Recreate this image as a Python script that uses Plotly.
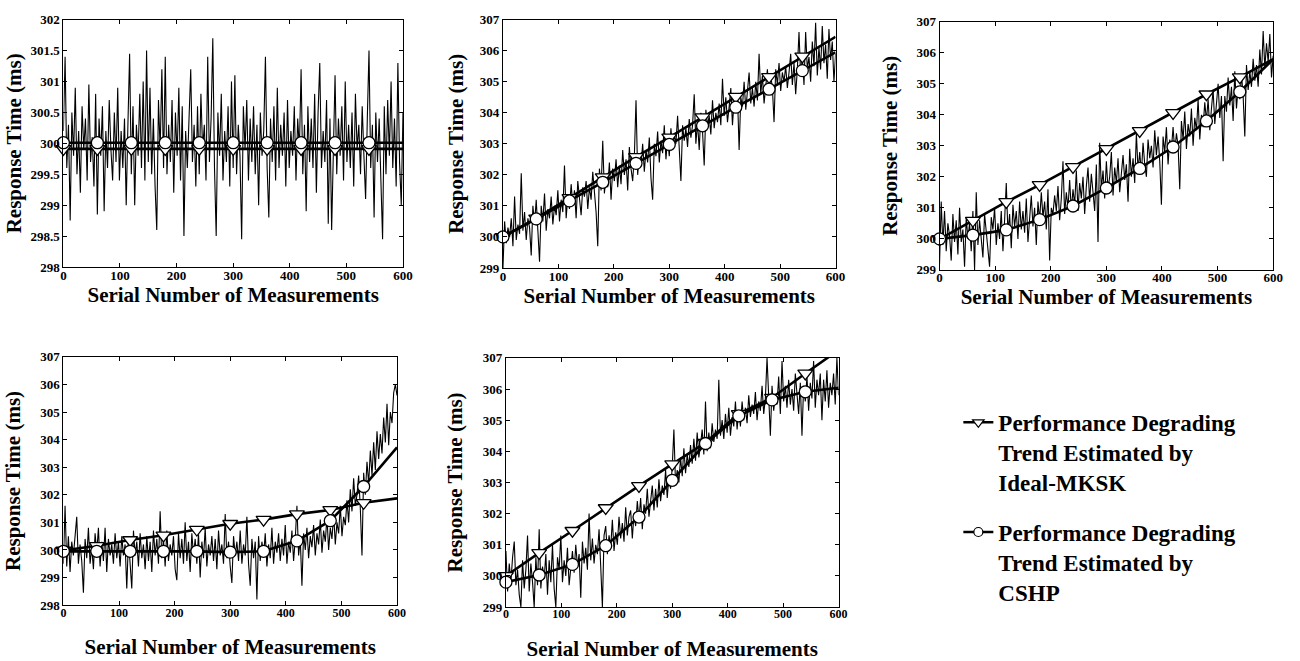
import plotly.graph_objects as go

# ---------------- data ----------------
serial_x = list(range(0, 601, 3))
trend_x = [0, 60, 120, 180, 240, 300, 360, 420, 480, 540, 600]

p1_measured = [
    300.2, 301.4, 299.6, 300.3, 298.75, 300.5, 299.8, 300.9, 299.5, 300.2,
    299.2, 300.6, 299.9, 300.4, 299.4, 300.95, 299.7, 300.1, 299.3, 300.8,
    298.85, 300.4, 299.8, 300.6, 298.9, 300.2, 299.6, 300.7, 299.9, 299.4,
    300.5, 299.7, 300.9, 299.4, 300.2, 299.6, 300.4, 299.0, 300.3, 301.45,
    299.5, 300.6, 299.0, 300.3, 299.8, 300.8, 299.6, 301.0, 299.4, 301.5,
    299.7, 300.9, 299.5, 300.4, 299.3, 298.6, 300.7, 299.9, 301.2, 299.6,
    301.4, 299.5, 300.3, 299.7, 300.7, 299.2, 300.5, 299.8, 300.9, 299.4,
    300.6, 298.5, 300.2, 299.6, 300.4, 301.2, 299.7, 300.3, 299.3, 300.6,
    299.5, 300.8, 299.9, 300.3, 299.4, 301.4, 299.7, 300.4, 301.7, 299.6,
    298.5, 300.5, 299.8, 300.8, 299.4, 300.2, 299.7, 300.6, 299.3, 301.0,
    299.6, 301.1, 299.5, 300.3, 299.8, 298.45, 300.6, 299.9, 300.7, 299.4,
    300.4, 299.7, 300.6, 299.5, 300.3, 299.0, 300.5, 299.8, 300.2, 301.4,
    299.6, 298.8, 300.4, 299.7, 300.6, 299.4, 300.9, 299.6, 300.3, 299.8,
    300.5, 299.3, 300.7, 299.6, 300.2, 299.8, 300.6, 299.4, 300.4, 299.9,
    301.2, 299.5, 300.3, 298.9, 300.6, 299.7, 300.4, 299.6, 300.8, 299.2,
    300.5, 301.3, 299.6, 300.2, 299.7, 300.7, 298.7, 300.4, 298.6, 300.2,
    301.1, 299.5, 300.4, 299.8, 300.6, 299.4, 301.0, 299.7, 300.3, 299.6,
    300.5, 299.3, 300.8, 299.9, 300.3, 299.5, 300.6, 299.8, 299.1, 300.4,
    301.5, 299.6, 300.3, 298.8, 300.5, 299.7, 300.4, 299.4, 298.45, 300.6,
    299.5, 300.7, 299.8, 301.0, 299.6, 300.4, 299.3, 301.3, 299.7, 299.0,
    300.5]
p2_measured = [
    299.0, 300.5, 299.8, 300.3, 300.0, 300.6, 299.7, 301.3, 299.9, 300.4,
    300.1, 302.05, 300.2, 300.8, 299.9, 300.6, 300.3, 299.4, 301.0, 300.4,
    301.2, 300.3, 299.2, 301.0, 300.5, 301.4, 300.2, 300.9, 300.6, 301.3,
    300.4, 301.0, 300.7, 301.5, 300.5, 301.2, 300.8, 302.3, 300.6, 301.3,
    300.9, 301.7, 301.0, 301.5, 300.6, 301.8, 301.2, 300.7, 301.6, 301.3,
    301.8, 300.9, 301.6, 301.2, 302.1, 301.4, 300.8, 299.7, 302.2, 301.5,
    303.1, 301.4, 302.0, 301.6, 302.4, 301.2, 302.2, 301.8, 302.5, 301.6,
    302.3, 301.7, 302.8, 302.0, 302.5, 301.5, 302.9, 302.2, 301.8, 302.6,
    304.4, 302.0, 302.7, 302.3, 303.0, 302.1, 302.8, 302.4, 303.2, 301.9,
    301.2, 303.0, 302.6, 303.4, 302.4, 303.1, 302.7, 303.6, 302.5, 303.2,
    302.6, 303.5, 302.8, 303.3, 303.0, 303.9, 302.7, 301.8, 303.6, 303.1,
    303.5, 302.9, 303.8, 303.2, 303.6, 304.6, 303.0, 303.7, 302.8, 304.0,
    303.4, 302.3, 304.1, 303.6, 303.9, 303.3, 304.4, 303.5, 304.0, 303.7,
    304.3, 303.6, 305.1, 303.9, 304.5, 303.7, 304.2, 304.8, 303.6, 304.4,
    304.0, 304.6, 302.8, 304.5, 304.2, 305.0, 304.1, 304.6, 305.3, 304.3,
    304.8, 304.2, 305.0, 304.4, 305.9, 304.6, 305.2, 304.3, 304.9, 305.4,
    304.6, 305.2, 304.8, 303.7, 305.4, 304.9, 305.6, 304.7, 305.3, 305.0,
    305.5, 304.8, 305.3, 305.9, 304.9, 305.6, 304.6, 305.4, 306.6, 305.2,
    305.8, 304.9, 306.6, 305.4, 305.8, 305.0, 306.3, 305.5, 306.9, 305.2,
    306.1, 305.4, 306.8, 305.6, 306.2, 305.1, 306.7, 305.7, 306.3, 305.0,
    305.9]
p3_measured = [
    299.2, 301.2, 299.8, 300.9, 299.6, 300.5, 300.1, 299.3, 300.8, 299.9,
    300.6, 299.5, 301.0, 299.9, 300.3, 299.1, 300.7, 300.0, 300.5, 299.6,
    300.9, 299.0, 301.5, 299.8, 300.6, 300.1, 299.4, 300.8, 300.2, 299.7,
    299.1, 300.7, 300.3, 301.0, 299.8, 300.5, 300.0, 300.9, 299.6, 300.6,
    301.8, 300.2, 300.8, 299.7, 301.1, 300.4, 300.9, 300.0, 301.2, 300.3,
    300.9, 300.2, 301.3, 299.9, 300.7, 301.4, 300.4, 301.0, 299.8, 301.2,
    300.6, 301.5, 300.7, 301.2, 300.3, 301.6, 299.3, 301.0, 300.8, 301.4,
    300.9, 301.7, 300.6, 301.3, 302.5, 300.8, 301.5, 301.0, 301.9, 300.9,
    301.6, 301.1, 302.2, 300.9, 301.8, 301.3, 302.0, 300.8, 301.7, 302.3,
    301.2, 302.1, 301.5, 300.9, 302.4, 299.9, 303.1, 301.6, 302.2, 301.3,
    302.5, 301.6, 302.0, 302.8, 301.4, 302.3, 301.8, 302.6, 301.5, 302.2,
    302.7, 301.9, 302.4, 301.2, 302.9, 302.0, 302.6, 301.8, 303.4, 302.2,
    302.8, 302.1, 303.1, 302.4, 302.0, 303.2, 302.6, 303.0, 302.3, 303.5,
    302.7, 303.3, 302.5, 301.1, 303.3, 302.8, 303.6, 302.4, 303.2, 302.9,
    303.6, 302.8, 303.4, 303.0, 301.6, 303.8, 303.2, 304.1, 302.9, 303.7,
    303.3, 304.2, 303.0, 303.9, 303.5, 304.5, 303.2, 304.0, 303.6, 304.4,
    303.8, 304.5, 303.5, 304.2, 304.8, 303.7, 304.3, 305.0, 303.9, 304.6,
    302.5, 304.6, 304.1, 305.2, 304.3, 304.9, 303.8, 305.4, 304.2, 304.9,
    304.5, 305.3, 304.6, 303.3, 305.6, 304.8, 305.4, 304.9, 305.8, 305.1,
    305.6, 304.9, 306.1, 305.3, 306.7, 305.5, 306.3, 305.7, 306.6, 305.2,
    305.9]
p4_measured = [
    299.5, 301.6, 299.4, 300.5, 299.2, 300.3, 299.8, 300.6, 301.2, 299.5,
    300.2, 299.6, 298.45, 300.4, 299.7, 300.8, 299.5, 300.1, 299.3, 300.6,
    299.9, 300.8, 299.4, 300.3, 299.6, 300.8, 299.2, 300.4, 299.8, 300.2,
    299.5, 300.6, 299.7, 300.3, 299.4, 300.5, 299.8, 300.2, 298.6, 300.4,
    299.6, 298.6, 300.7, 299.8, 300.3, 299.4, 300.6, 299.7, 300.2, 299.3,
    300.5, 299.6, 300.3, 299.2, 300.7, 299.8, 300.4, 299.5, 301.4, 299.7,
    300.4, 299.4, 300.7, 299.6, 300.2, 299.8, 300.5, 299.3, 298.9, 300.6,
    299.7, 300.4, 299.5, 301.0, 299.6, 300.3, 299.2, 300.6, 299.8, 300.4,
    299.5, 300.6, 299.0, 300.3, 299.7, 300.8, 299.4, 300.2, 299.8, 300.5,
    299.6, 300.4, 299.3, 300.7, 299.8, 300.2, 299.5, 301.3, 299.7, 300.3,
    299.4, 298.8, 300.5, 299.8, 300.3, 299.6, 300.7, 299.5, 300.2, 299.8,
    301.2, 299.5, 298.7, 300.4, 299.7, 300.3, 298.2, 300.5, 299.6, 300.3,
    299.8, 300.6, 299.4, 300.2, 299.7, 300.8, 299.5, 300.3, 299.9, 300.6,
    299.6, 300.4, 299.8, 300.9, 299.5, 300.3, 299.9, 300.7, 299.6, 300.4,
    301.6, 299.8, 300.4, 298.7, 300.6, 300.0, 300.8, 299.7, 300.5, 300.1,
    300.9, 299.8, 300.6, 300.2, 301.1, 299.9, 300.7, 300.3, 301.2, 300.0,
    300.8, 300.4, 301.3, 300.2, 301.0, 300.6, 301.6, 300.5, 301.2, 300.9,
    301.8, 301.0, 302.2, 301.4, 302.6, 301.6, 302.0, 302.7, 301.5, 299.8,
    302.8, 302.0, 303.2, 302.4, 303.6, 302.7, 303.9, 302.9, 304.3, 303.3,
    304.2, 303.5, 304.8, 303.9, 305.3, 303.8, 305.0, 304.6, 305.7, 306.0,
    305.6]
p5_measured = [
    300.8, 299.5, 300.4, 299.8, 300.6, 301.1, 299.7, 300.2, 299.4, 299.0,
    300.5, 299.6, 300.2, 301.3, 299.5, 300.4, 299.8, 299.0, 300.6, 299.7,
    301.5, 299.6, 300.3, 299.9, 300.7, 299.4, 300.5, 299.8, 301.0, 299.6,
    299.0, 300.6, 300.2, 301.3, 299.8, 300.5, 300.0, 300.9, 299.7, 300.4,
    300.8, 300.1, 301.0, 300.3, 300.7, 299.3, 301.1, 300.4, 300.9, 300.2,
    302.0, 300.5, 301.2, 300.4, 301.0, 300.7, 301.5, 300.3, 299.0, 301.3,
    301.6, 300.7, 301.3, 300.9, 301.8, 300.8, 301.4, 301.0, 301.9, 301.2,
    301.7, 301.1, 302.2, 301.3, 301.9, 302.1, 301.2, 302.0, 301.6, 302.4,
    301.8, 302.5, 301.5, 302.3, 302.0, 302.8, 301.9, 302.4, 302.9, 302.1,
    302.8, 302.2, 303.1, 302.4, 302.9, 302.6, 303.4, 302.5, 303.2, 302.8,
    303.5, 304.7, 302.9, 303.4, 303.0, 303.8, 303.2, 304.1, 303.3, 303.9,
    303.5, 304.2, 303.6, 304.4, 303.7, 304.6, 303.8, 304.2, 304.7, 303.9,
    305.6, 304.0, 304.6, 304.1, 304.9, 304.3, 304.7, 304.4, 306.3, 304.5,
    305.0, 304.4, 305.2, 304.6, 305.4, 304.5, 305.1, 304.8, 305.6, 304.7,
    305.3, 304.8, 305.6, 305.0, 305.4, 304.9, 305.8, 305.1, 305.5, 305.2,
    305.9, 305.0, 305.6, 305.3, 306.1, 305.2, 305.7, 307.0, 305.4, 304.5,
    306.1, 305.3, 305.8, 305.5, 306.4, 305.2, 306.9, 305.6, 306.1, 305.4,
    306.3, 305.5, 306.0, 305.3, 306.5, 305.7, 305.2, 306.2, 304.5, 306.1,
    305.6, 306.4, 305.3, 306.2, 305.7, 306.9, 305.4, 306.3, 305.8, 306.5,
    305.0, 306.3, 305.6, 306.6, 305.4, 306.2, 305.8, 306.5, 305.5, 307.0,
    305.8]

p1_mksk = [299.91, 299.91, 299.91, 299.91, 299.91, 299.91, 299.91, 299.91, 299.91, 299.91, 299.91]
p1_cshp = [300.01, 300.01, 300.01, 300.01, 300.01, 300.01, 300.01, 300.01, 300.01, 300.01, 300.01]
p2_mksk = [300.0, 300.6, 301.26, 301.93, 302.58, 303.21, 303.86, 304.52, 305.16, 305.82, 306.45]
p2_cshp = [300.0, 300.58, 301.16, 301.76, 302.37, 302.98, 303.58, 304.18, 304.76, 305.36, 305.95]
p3_mksk = [299.99, 300.59, 301.19, 301.74, 302.32, 302.9, 303.48, 304.06, 304.66, 305.21, 305.79]
p3_cshp = [300.0, 300.12, 300.29, 300.62, 301.06, 301.64, 302.27, 302.96, 303.8, 304.74, 305.79]
p4_mksk = [299.98, 300.15, 300.36, 300.53, 300.74, 300.95, 301.1, 301.3, 301.45, 301.71, 301.87]
p4_cshp = [299.95, 299.95, 299.95, 299.95, 299.95, 299.92, 299.95, 300.33, 301.06, 302.3, 303.72]
p5_mksk = [300.0, 300.74, 301.45, 302.18, 302.89, 303.59, 304.28, 305.2, 305.72, 306.5, 307.25]
p5_cshp = [299.8, 300.03, 300.37, 300.97, 301.89, 303.07, 304.25, 305.14, 305.65, 305.91, 306.04]

y_ranges = [[298, 302], [299, 307], [299, 307], [298, 307], [299, 307]]
y_dticks = [0.5, 1, 1, 1, 1]
x_title = "Serial Number of Measurements"
y_title = "Response Time (ms)"
legend_mksk = "Performance Degrading<br>Trend Estimated by<br>Ideal-MKSK"
legend_cshp = "Performance Degrading<br>Trend Estimated by<br>CSHP"

panels = [
    (p1_measured, p1_mksk, p1_cshp),
    (p2_measured, p2_mksk, p2_cshp),
    (p3_measured, p3_mksk, p3_cshp),
    (p4_measured, p4_mksk, p4_cshp),
    (p5_measured, p5_mksk, p5_cshp),
]

# ---------------- layout geometry ----------------
W, H = 1300, 661
px_boxes = [  # left, right, top, bottom in pixels
    (61, 404, 13, 266),
    (505, 841, 13, 267),
    (946, 1283, 15, 269),
    (61, 398, 358, 612),
    (508, 844, 359, 614),
]
x_standoffs = [4, 4, 4, 20, 20]
y_standoffs = [3, 10, 13, 13, 14]
x_tick_sizes = [13, 13, 13, 12, 12]

FONT = "Liberation Serif, Times New Roman, serif"

fig = go.Figure()
for i, (meas, mksk, cshp) in enumerate(panels):
    xa = "x" if i == 0 else f"x{i+1}"
    ya = "y" if i == 0 else f"y{i+1}"
    fig.add_trace(go.Scatter(x=serial_x, y=meas, mode="lines",
                             line=dict(color="black", width=1.1),
                             xaxis=xa, yaxis=ya, showlegend=False, hoverinfo="skip"))
    for vals in (mksk, cshp):
        fig.add_trace(go.Scatter(x=trend_x, y=vals, mode="lines",
                                 line=dict(color="black", width=2.6),
                                 xaxis=xa, yaxis=ya, showlegend=False))
    fig.add_trace(go.Scatter(x=trend_x[:-1], y=mksk[:-1], mode="markers",
                             marker=dict(symbol="triangle-down", size=13, color="white",
                                         line=dict(color="black", width=1.3)),
                             cliponaxis=False, xaxis=xa, yaxis=ya, showlegend=False))
    fig.add_trace(go.Scatter(x=trend_x[:-1], y=cshp[:-1], mode="markers",
                             marker=dict(symbol="circle", size=12, color="white",
                                         line=dict(color="black", width=1.3)),
                             cliponaxis=False, xaxis=xa, yaxis=ya, showlegend=False))

# legend entries
fig.add_trace(go.Scatter(x=[None], y=[None], mode="lines+markers", name=legend_mksk,
                         line=dict(color="black", width=2.4), legendgroup="a",
                         marker=dict(symbol="triangle-down", size=10, color="white",
                                     line=dict(color="black", width=1.2))))
fig.add_trace(go.Scatter(x=[None], y=[None], mode="lines+markers", name=legend_cshp,
                         line=dict(color="black", width=2.4), legendgroup="b",
                         marker=dict(symbol="circle", size=9, color="white",
                                     line=dict(color="black", width=1.2))))

layout = dict(
    width=W, height=H, margin=dict(l=0, r=0, t=0, b=0),
    paper_bgcolor="white", plot_bgcolor="white",
    font=dict(family=FONT, color="black"),
    showlegend=True,
    legend=dict(x=965 / W, y=1 - 403 / H, xanchor="left", yanchor="top",
                font=dict(family=FONT, size=23, color="black", weight="bold"),
                valign="top", traceorder="grouped", tracegroupgap=17,
                bgcolor="rgba(0,0,0,0)"),
)
for i, (l, r, t, b) in enumerate(px_boxes):
    xk = "xaxis" if i == 0 else f"xaxis{i+1}"
    yk = "yaxis" if i == 0 else f"yaxis{i+1}"
    common = dict(showline=True, linecolor="black", linewidth=1, mirror="ticks",
                  ticks="inside", ticklen=4, tickcolor="black", showgrid=False,
                  zeroline=False)
    layout[xk] = dict(domain=[l / W, r / W], anchor="y" if i == 0 else f"y{i+1}",
                      range=[0, 600], dtick=100, tick0=0, ticklabelstandoff=-4,
                      tickfont=dict(family=FONT, size=x_tick_sizes[i], color="black",
                                    weight="bold"),
                      title=dict(text=x_title, standoff=x_standoffs[i],
                                 font=dict(family=FONT, size=21, weight="bold")),
                      **common)
    layout[yk] = dict(domain=[1 - b / H, 1 - t / H], anchor="x" if i == 0 else f"x{i+1}",
                      range=y_ranges[i], dtick=y_dticks[i], tick0=y_ranges[i][0],
                      tickfont=dict(family=FONT, size=13, color="black", weight="bold"),
                      title=dict(text=y_title, standoff=y_standoffs[i],
                                 font=dict(family=FONT, size=21, weight="bold")),
                      **common)
fig.update_layout(**layout)
fig.write_html("out.html")
